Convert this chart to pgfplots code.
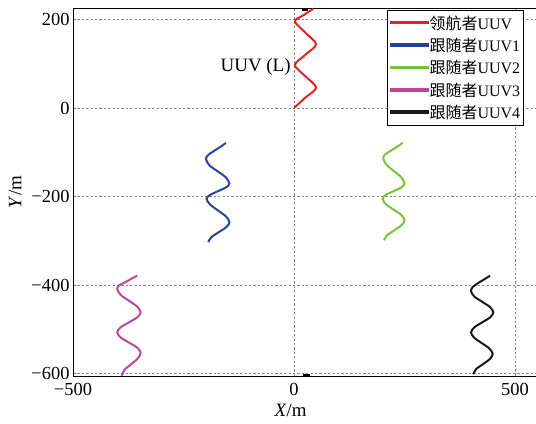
\documentclass[border=0pt]{standalone}
\usepackage{fontspec}
\setmainfont{Liberation Serif}
\newfontfamily\cjk{Noto Sans CJK SC}
\usepackage{pgfplots}
\pgfplotsset{compat=1.18}
\definecolor{cL}{RGB}{225,35,35}
\definecolor{cA}{RGB}{45,65,155}
\definecolor{cG}{RGB}{120,195,55}
\definecolor{cC}{RGB}{190,70,150}
\definecolor{cD}{RGB}{25,25,25}
\begin{document}
\begin{tikzpicture}
\begin{axis}[
  scale only axis,
  width=463bp, height=368bp,
  xmin=-500, xmax=547.5, ymin=-605.7, ymax=226,
  xtick={-500,0,500}, xticklabels={−500,0,500},
  ytick={-600,-400,-200,0,200}, yticklabels={−600,−400,−200,0,200},
  tick label style={font=\fontsize{18.5}{20}\selectfont},
  xticklabel style={yshift=-4bp},
  tick pos=left, tick align=inside,
  major tick length=3bp,
  grid=major,
  major grid style={dash pattern=on 2.2bp off 2.2bp, gray!95, line width=0.9pt},
  axis line style={black, line width=0.9pt},
  xlabel={\textit{X}/m}, ylabel={\textit{Y}/m},
  label style={font=\fontsize{19}{21}\selectfont},
  xlabel style={at={(axis description cs:0.47,0)}, anchor=center, yshift=-34bp},
  ylabel style={at={(axis description cs:-0.125,0.5)}, anchor=center, rotate=0},
  legend style={at={(axis description cs:0.678,0.995)}, anchor=north west,
    draw=black, line width=0.6pt, fill=white, inner xsep=3bp, inner ysep=3.5bp,
    font=\fontsize{16}{17}\selectfont, row sep=3.5bp,
    nodes={inner xsep=0.5bp}},
  legend cell align=left,
  legend image code/.code={\fill[#1] (0bp,-0.2bp) rectangle (37bp,1.4bp);},
]
\addplot[cL, line width=2pt, smooth] coordinates {
(0,0)(25,23)(50,46)(26,71.5)(2,97)(26,120.5)(50,144)(26,170)(2,196)(22,210)(43,224)};
\addlegendentry{{\cjk 领航者}UUV}
\addplot[cA, line width=2pt, smooth] coordinates {
(-194,-303)(-187,-292)(-170,-280.5)(-153,-269)(-146,-258)(-154,-245)(-172,-231.5)(-190,-218)(-198,-205)(-190,-196.5)(-172,-188)(-154,-179.5)(-146,-171)(-154,-157)(-172,-143.5)(-191,-130)(-199,-116)(-195,-107)(-181,-97)(-167,-88)(-154,-79)};
\addlegendentry{{\cjk 跟随者}UUV1}
\addplot[cG, line width=2pt, smooth] coordinates {
(203.6,-299)(210,-288)(227,-276.5)(243,-265)(250,-254)(242.8,-241.75)(225,-229.5)(207.7,-217.25)(200.5,-205)(207.7,-196.5)(225,-188)(242.8,-179.5)(250,-171)(243,-156.75)(226,-142.5)(209,-128.25)(202,-114)(206,-105)(220,-96)(234,-87)(246,-79)};
\addlegendentry{{\cjk 跟随者}UUV2}
\addplot[cC, line width=2pt, smooth] coordinates {
(-390,-605)(-383.7,-592)(-368.5,-579)(-353.3,-566)(-347,-553)(-354.7,-541.5)(-373.5,-530)(-392.3,-518.5)(-400,-507)(-392.3,-495.75)(-373.5,-484.5)(-354.7,-473.25)(-347,-462)(-354.7,-448.75)(-373.5,-435.5)(-392.3,-422.25)(-400,-409)(-396,-401)(-382,-394)(-368,-386)(-354.5,-379)};
\addlegendentry{{\cjk 跟随者}UUV3}
\addplot[cD, line width=2pt, smooth] coordinates {
(405.6,-601.6)(412,-590)(427.5,-579)(443,-567.4)(449.5,-556)(442.3,-543.75)(425,-531.5)(407.7,-519.25)(400.5,-507)(407.9,-495.75)(425.75,-484.5)(443.6,-473.25)(451,-462)(443.6,-450)(425.75,-438)(407.9,-426)(400.5,-414)(404,-405)(416,-396)(430,-387.5)(443.4,-379)};
\addlegendentry{{\cjk 跟随者}UUV4}
\addplot[black, line width=2.5pt, forget plot] coordinates {(18,221)(32,221)};
\addplot[black, line width=2pt, forget plot] coordinates {(20,-603.5)(36,-603.5)};
\node[anchor=east, font=\fontsize{19}{21}\selectfont, inner sep=1bp] at (axis cs:-5,93) {UUV (L)};
\end{axis}
\pgfresetboundingbox
\path ([xshift=-73bp,yshift=-48bp]current axis.south west) rectangle ([yshift=8bp]current axis.north east);
\end{tikzpicture}
\end{document}
